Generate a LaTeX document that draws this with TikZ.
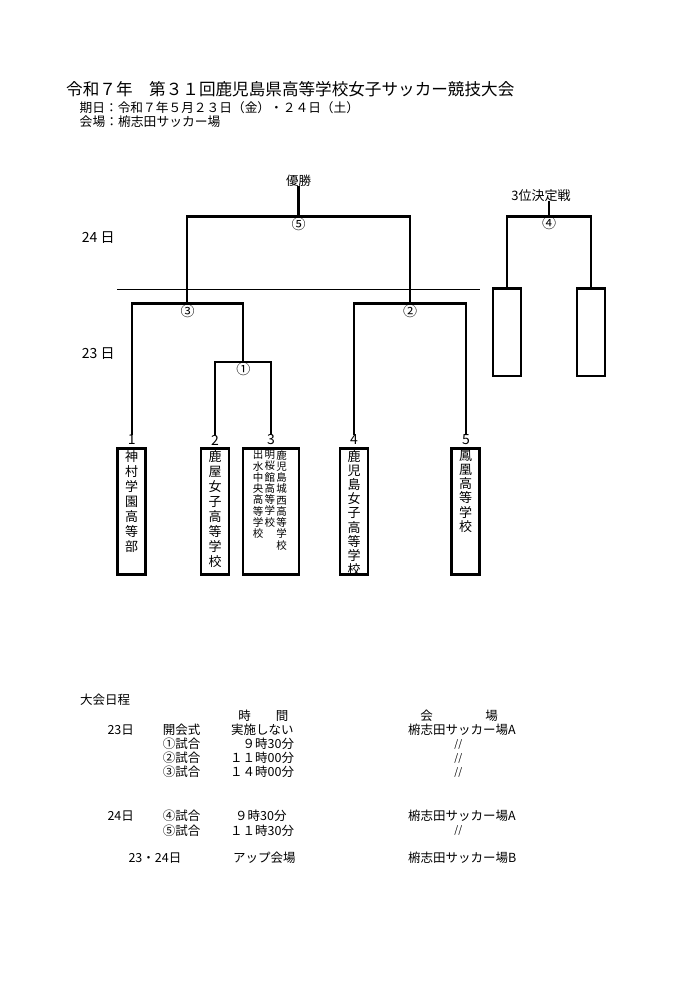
\documentclass[tikz,border=0pt]{standalone}
\usepackage{fontspec}
\setmainfont{Noto Sans CJK JP}
\begin{document}
\begin{tikzpicture}[x=1pt,y=-1pt,
  bracket/.style={line width=2.2pt,line cap=rect,line join=miter},
  teambox/.style={draw,line width=2.2pt,minimum width=28pt,minimum height=126pt,inner sep=0pt},
  wideteambox/.style={teambox,minimum width=55.7pt},
  thirdbox/.style={draw,line width=2.2pt,minimum width=28pt,minimum height=87.5pt,inner sep=0pt},
  vtext/.style={anchor=north,align=center,inner sep=0pt,font=\fontsize{13}{15}\selectfont},
  vsmall/.style={anchor=north,align=center,inner sep=0pt,font=\fontsize{10.5}{11.25}\selectfont},
  num/.style={inner sep=1pt,font=\fontsize{14}{16}\selectfont},
  mlabel/.style={inner sep=0pt,font=\fontsize{14}{16}\selectfont},
  lbl/.style={inner sep=0pt,font=\fontsize{12.5}{15}\selectfont},
  daylbl/.style={anchor=west,inner sep=0pt,font=\fontsize{14}{16}\selectfont},
  sched/.style={inner sep=0pt,font=\fontsize{12.5}{14}\selectfont},
  ditto/.style={inner sep=0pt,font=\fontsize{10}{12}\selectfont\itshape}
]
\fill[white] (0,0) rectangle (691,989);
\useasboundingbox (0,0) rectangle (691,989);

% Title block
\node[anchor=west,inner sep=0pt,font=\fontsize{16.6}{20}\selectfont] (title) at (66,89.5) {令和７年　第３１回鹿児島県高等学校女子サッカー競技大会};
\node[anchor=west,inner sep=0pt,font=\fontsize{12.7}{15}\selectfont] (date) at (79.5,108) {期日：令和７年５月２３日（金）・２４日（土）};
\node[anchor=west,inner sep=0pt,font=\fontsize{12.8}{15}\selectfont] (venue) at (79.5,121.7) {会場：椨志田サッカー場};

% Day labels and divider
\node[daylbl] (d24) at (81.7,238) {24 日};
\node[daylbl] (d23) at (81.7,354) {23 日};
\coordinate (dv1) at (117,289.5);
\coordinate (dv2) at (480,289.5);
\draw[line width=0.9pt] (dv1) -- (dv2);

% Team boxes
\node[teambox] (b1) at (131.5,511.5) {};
\node[teambox] (b2) at (215,511.5) {};
\node[wideteambox] (b3) at (271.15,511.5) {};
\node[teambox] (b4) at (354,511.5) {};
\node[teambox] (b5) at (465.5,511.5) {};

\node[vtext] (t1) at ([yshift=-2.5pt]b1.north) {神\\村\\学\\園\\高\\等\\部};
\node[vtext] (t2) at ([yshift=-2.5pt]b2.north) {鹿\\屋\\女\\子\\高\\等\\学\\校};
\node[vsmall] (t3a) at (258,450) {出\\水\\中\\央\\高\\等\\学\\校};
\node[vsmall] (t3b) at (269.8,450) {明\\桜\\館\\高\\等\\学\\校};
\node[vsmall] (t3c) at (281.7,450) {鹿\\児\\島\\城\\西\\高\\等\\学\\校};
\node[vtext,font=\fontsize{13}{14.2}\selectfont] (t4) at ([yshift=-2.5pt]b4.north) {鹿\\児\\島\\女\\子\\高\\等\\学\\校};
\node[vtext,font=\fontsize{13}{14.2}\selectfont] (t5) at ([yshift=-2.5pt]b5.north) {鳳\\凰\\高\\等\\学\\校};

% Seed numbers
\node[num] (n1) at (131.7,440) {1};
\node[num] (n2) at (215,440) {2};
\node[num] (n3) at (271,440) {3};
\node[num] (n4) at (354,440) {4};
\node[num] (n5) at (466,440) {5};

% Match points
\coordinate (m3) at (187.2,303.5);
\coordinate (m1) at (243.3,362);
\coordinate (m2) at (410,303.5);
\coordinate (m5) at (298.5,216.5);
\coordinate (m4) at (549,216.5);

% Main bracket
\node[lbl] (win) at (298.5,181) {優勝};
\draw[bracket] (n1.north) |- (m3) -| (m1);
\draw[bracket] (n2.north) |- (m1) -| (n3.north);
\draw[bracket] (n4.north) |- (m2) -| (n5.north);
\draw[bracket] (m3) |- (m5) -| (m2);
\draw[bracket] (win.south) -- (m5);

\node[mlabel] (c5) at (298.5,224) {⑤};
\node[mlabel] (c3) at (187.5,311) {③};
\node[mlabel] (c1) at (243.3,369) {①};
\node[mlabel] (c2) at (410,311) {②};

% Third place
\node[lbl,font=\fontsize{13}{15}\selectfont] (third) at (541,195.5) {3位決定戦};
\node[thirdbox] (b6) at (507,332.25) {};
\node[thirdbox] (b7) at (591,332.25) {};
\draw[bracket] (b6.north) |- (m4) -| (b7.north);
\draw[bracket] (third.south -| m4) -- (m4);
\node[mlabel] (c4) at (549,223.5) {④};

% Schedule
\node[sched,anchor=west] (sh) at (80,700) {大会日程};
\node[sched] (hj) at (263.3,716) {時　　間};
\node[sched] (hk) at (426.7,716) {会};
\node[sched] (hb) at (491.7,716) {場};

\node[sched,anchor=west] (s23) at (107.3,730) {23日};
\node[sched,anchor=west] (e0) at (162.7,730) {開会式};
\node[sched,anchor=west] (e1) at (162.7,744) {①試合};
\node[sched,anchor=west] (e2) at (162.7,758) {②試合};
\node[sched,anchor=west] (e3) at (162.7,772) {③試合};
\node[sched,anchor=west] (x0) at (231,730) {実施しない};
\node[sched,anchor=east] (x1) at (294.3,744) {９時30分};
\node[sched,anchor=east] (x2) at (294.3,758) {１１時00分};
\node[sched,anchor=east] (x3) at (294.3,772) {１４時00分};
\node[sched,anchor=west] (v0) at (408,730) {椨志田サッカー場A};
\node[ditto] (v1) at (458.3,744) {//};
\node[ditto] (v2) at (458.3,758) {//};
\node[ditto] (v3) at (458.3,772) {//};

\node[sched,anchor=west] (s24) at (107.3,816) {24日};
\node[sched,anchor=west] (e4) at (162.7,816) {④試合};
\node[sched,anchor=west] (e5) at (162.7,830.5) {⑤試合};
\node[sched,anchor=east] (x4) at (286.7,816) {９時30分};
\node[sched,anchor=east] (x5) at (294.3,830.5) {１１時30分};
\node[sched,anchor=west] (v4) at (408,816) {椨志田サッカー場A};
\node[ditto] (v5) at (458.3,830.5) {//};

\node[sched,anchor=west] (s2324) at (128.3,858) {23・24日};
\node[sched,anchor=west] (up) at (233,858) {アップ会場};
\node[sched,anchor=west] (v6) at (408,858) {椨志田サッカー場B};
\end{tikzpicture}
\end{document}
